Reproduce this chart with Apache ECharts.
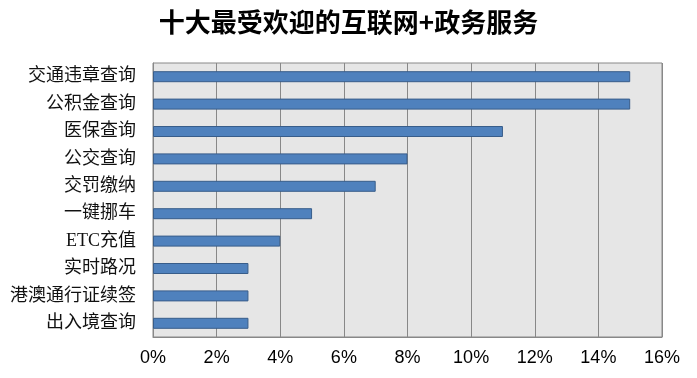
<!DOCTYPE html>
<html><head><meta charset="utf-8">
<script src="https://cdn.jsdelivr.net/npm/echarts@6/dist/echarts.min.js"></script>
<style>html,body{margin:0;padding:0;background:#fff}#c{width:697px;height:378px}</style>
</head><body><div id="c"></div>
<script>
var categories = ['交通违章查询','公积金查询','医保查询','公交查询','交罚缴纳','一键挪车','ETC充值','实时路况','港澳通行证续签','出入境查询'];
var values = [15,15,11,8,7,5,4,3,3,3];
var xTicks = [0,2,4,6,8,10,12,14,16];
var titleText = '十大最受欢迎的互联网+政务服务';

var chart = echarts.init(document.getElementById('c'));
chart.setOption({
  animation:false,
  title:{text:titleText,left:'center',top:4,textStyle:{fontFamily:'Noto Sans CJK SC',fontSize:26,fontWeight:'bold',color:'#000'}},
  grid:{left:153,right:35,top:63,bottom:41,show:true,backgroundColor:'#e6e6e6',borderColor:'#888',borderWidth:1},
  xAxis:{type:'value',min:xTicks[0],max:xTicks[xTicks.length-1],interval:2,
    axisLine:{show:true,lineStyle:{color:'#888'}},axisTick:{show:false},
    splitLine:{show:true,lineStyle:{color:'#888',width:1}},
    axisLabel:{formatter:'{value}%',margin:12,fontFamily:'Liberation Sans',fontSize:18,color:'#000'}},
  yAxis:{type:'category',inverse:true,data:categories,
    axisLine:{show:true,lineStyle:{color:'#888'}},axisTick:{show:false},
    axisLabel:{margin:17,fontFamily:'Liberation Serif, Noto Sans CJK SC',fontSize:18,color:'#111'}},
  series:[{type:'bar',data:values,barWidth:11,
    itemStyle:{color:'#4f81bd',borderColor:'#385d8a',borderWidth:1}}]
});
</script></body></html>
